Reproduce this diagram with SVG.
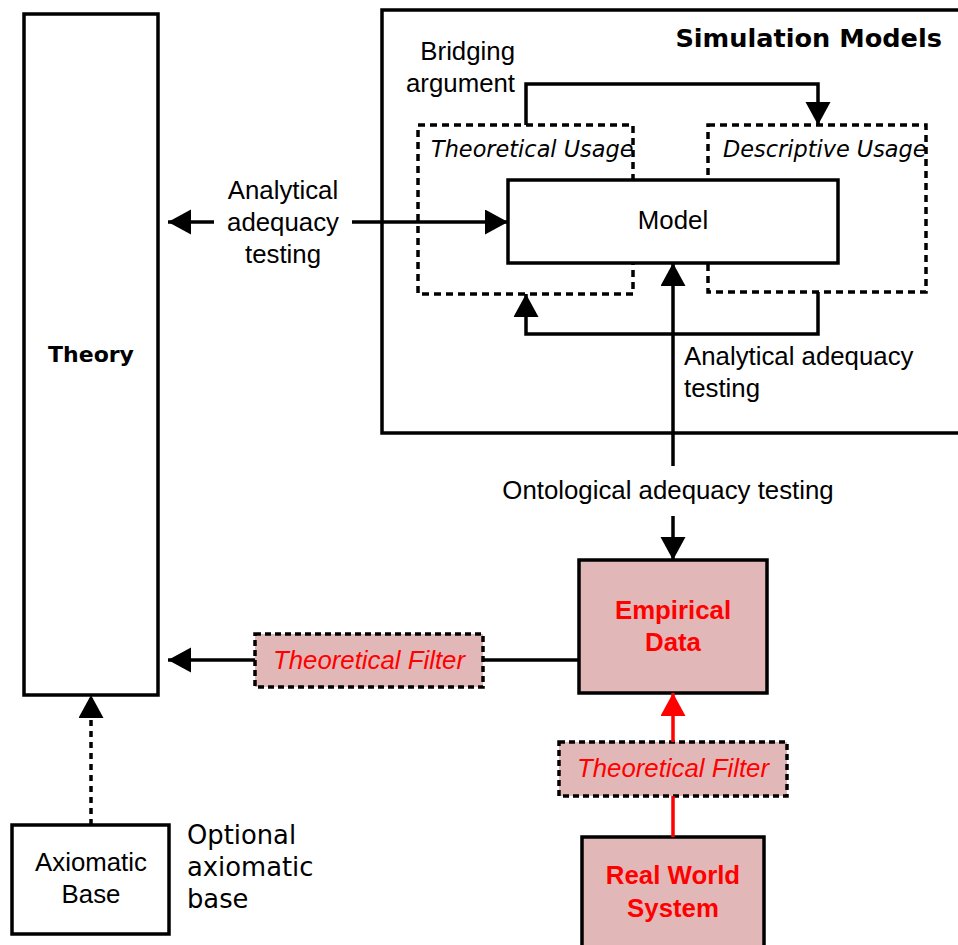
<svg xmlns="http://www.w3.org/2000/svg" width="958" height="945" viewBox="0 0 958 945">
  <style>
    .box { fill: #ffffff; stroke: #000000; stroke-width: 3.5; }
    .pink { fill: #e1b8b7; stroke: #000000; stroke-width: 3.5; }
    .dash { fill: none; stroke: #000000; stroke-width: 3.5; }
    .dashfill { fill: #ffffff; stroke: #000000; stroke-width: 3.5; stroke-dasharray: 7 5; }
    .pinkdash { fill: #e1b8b7; stroke: #000000; stroke-width: 3.5; stroke-dasharray: 6 4; }
    .wire { fill: none; stroke: #000000; stroke-width: 3.5; }
    .redwire { fill: none; stroke: #ff0000; stroke-width: 3.5; }
    .sans { font-family: "Liberation Sans", Arial, sans-serif; font-size: 25.8px; fill: #000000; }
    .dv { font-family: "DejaVu Sans", sans-serif; fill: #000000; }
    .red { fill: #ff0000; }
  </style>
  <defs>
    <marker id="ah" markerUnits="userSpaceOnUse" markerWidth="24" markerHeight="26" refX="23" refY="12.5" orient="auto">
      <path d="M0,0 L23,12.5 L0,25 Z" fill="#000000"/>
    </marker>
    <marker id="ahRed" markerUnits="userSpaceOnUse" markerWidth="24" markerHeight="26" refX="23" refY="12.5" orient="auto">
      <path d="M0,0 L23,12.5 L0,25 Z" fill="#ff0000"/>
    </marker>
  </defs>

  <!-- Theory column -->
  <g id="theory">
    <rect class="box" x="24" y="14" width="134" height="681"/>
    <text class="dv" x="91" y="362" font-size="22" font-weight="bold" text-anchor="middle">Theory</text>
  </g>

  <!-- Simulation models container -->
  <g id="simulation-models">
    <rect class="box" x="382" y="10" width="600" height="423"/>
    <text class="dv" x="942" y="47" font-size="25.6" font-weight="bold" text-anchor="end">Simulation Models</text>
  </g>

  <g id="theoretical-usage">
    <rect class="dashfill" x="418" y="125" width="215" height="169"/>
    <text class="dv" x="431" y="157" font-size="22.4" font-style="italic">Theoretical Usage</text>
  </g>

  <g id="descriptive-usage">
    <rect class="dashfill" x="708" y="125" width="218" height="167"/>
    <text class="dv" x="723" y="157" font-size="22.4" font-style="italic">Descriptive Usage</text>
  </g>

  <g id="model">
    <rect class="box" x="508" y="180" width="330" height="83"/>
    <text class="sans" x="673" y="229" text-anchor="middle">Model</text>
  </g>

  <g id="empirical-data">
    <rect class="pink" x="579" y="560" width="188" height="133"/>
    <text class="sans red" x="673" y="619" font-weight="bold" text-anchor="middle">Empirical</text>
    <text class="sans red" x="673" y="651" font-weight="bold" text-anchor="middle">Data</text>
  </g>

  <g id="filter-left">
    <rect class="pinkdash" x="255" y="634" width="228" height="53"/>
    <text class="sans red" x="369" y="669" font-style="italic" text-anchor="middle">Theoretical Filter</text>
  </g>

  <g id="filter-lower">
    <rect class="pinkdash" x="559" y="742" width="228" height="54"/>
    <text class="sans red" x="673" y="777" font-style="italic" text-anchor="middle">Theoretical Filter</text>
  </g>

  <g id="real-world-system">
    <rect class="pink" x="582" y="837" width="182" height="112"/>
    <text class="sans red" x="673" y="884" font-weight="bold" text-anchor="middle">Real World</text>
    <text class="sans red" x="673" y="917" font-weight="bold" text-anchor="middle">System</text>
  </g>

  <g id="axiomatic-base">
    <rect class="box" x="12" y="825" width="157" height="109"/>
    <text class="sans" x="91" y="871" text-anchor="middle">Axiomatic</text>
    <text class="sans" x="91" y="903" text-anchor="middle">Base</text>
  </g>

  <!-- Connectors -->
  <g id="connectors">
    <!-- bridging argument: theoretical usage to descriptive usage -->
    <path class="wire" d="M526,125 V84 H818 V125" marker-end="url(#ah)"/>
    <!-- analytical adequacy loop back under the model -->
    <path class="wire" d="M818,292 V334 H526 V294" marker-end="url(#ah)"/>
    <!-- theory <-> model -->
    <path class="wire" d="M352,222 H508" marker-end="url(#ah)"/>
    <path class="wire" d="M214,222 H168" marker-end="url(#ah)"/>
    <!-- ontological adequacy testing -->
    <path class="wire" d="M673,466 V263" marker-end="url(#ah)"/>
    <path class="wire" d="M673,516 V560" marker-end="url(#ah)"/>
    <!-- empirical data through filter to theory -->
    <path class="wire" d="M579,660 H483"/>
    <path class="wire" d="M255,660 H168" marker-end="url(#ah)"/>
    <!-- real world system through filter to empirical data -->
    <path class="redwire" d="M673,837 V796"/>
    <path class="redwire" d="M673,742 V693" marker-end="url(#ahRed)"/>
    <!-- optional axiomatic base -->
    <path class="dash" d="M91,825 V695" stroke-dasharray="6 5" marker-end="url(#ah)"/>
  </g>

  <!-- Connector labels -->
  <g id="labels">
    <text class="sans" x="515" y="60" text-anchor="end">Bridging</text>
    <text class="sans" x="515" y="92" text-anchor="end">argument</text>
    <text class="sans" x="283" y="199" text-anchor="middle">Analytical</text>
    <text class="sans" x="283" y="231" text-anchor="middle">adequacy</text>
    <text class="sans" x="283" y="263" text-anchor="middle">testing</text>
    <text class="sans" x="684" y="365">Analytical adequacy</text>
    <text class="sans" x="684" y="397">testing</text>
    <text class="sans" x="668" y="499" text-anchor="middle">Ontological adequacy testing</text>
    <text class="dv" x="187" y="844" font-size="25.8">Optional</text>
    <text class="dv" x="187" y="876" font-size="25.8">axiomatic</text>
    <text class="dv" x="187" y="908" font-size="25.8">base</text>
  </g>
</svg>
